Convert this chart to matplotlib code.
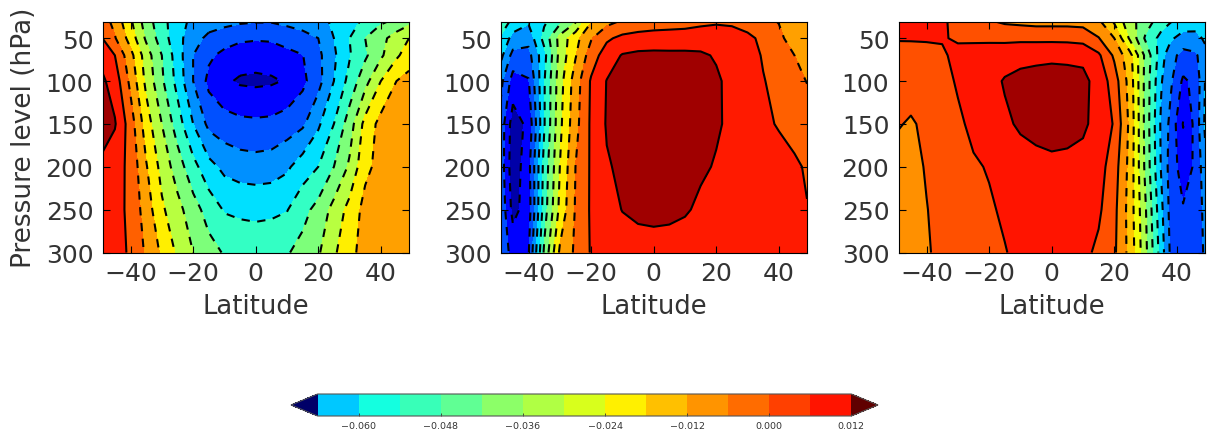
import matplotlib
matplotlib.use('Agg')
import matplotlib.pyplot as plt
import numpy as np
from matplotlib.colors import ListedColormap, BoundaryNorm
from matplotlib.colorbar import ColorbarBase

pressure = [30, 50, 70, 100, 150, 200, 250, 300]
lat_a = [-49,-45,-40,-35,-30,-25,-20,-15,-10,-5,0,5,10,15,20,25,30,35,40,45,49]
lat_c = [-49,-45,-40,-35,-30,-25,-20,-15,-10,-5,0,5,10,15,20,25,30,35,38,42,46,49]

# values in units of 1e-3
panel_a = [
 [-3,-8,-17,-27,-34,-39.5,-43.5,-45,-46,-47,-47.5,-47.5,-46.5,-45.5,-44,-41,-38,-35,-31,-29,-26],
 [0,-5.5,-14.5,-25,-33,-40,-45.5,-49.5,-51.5,-53,-53.4,-53.2,-51.5,-50,-48,-42,-36,-30,-26,-21,-18],
 [4,0,-10,-21,-30,-39,-48,-53,-55.5,-57,-57.5,-57,-55.8,-54.2,-49.5,-43,-36.5,-31,-25,-19,-15],
 [7,3.3,-7.5,-19.5,-29,-38,-48,-55.5,-59,-60.8,-61.2,-60.8,-59.5,-55.5,-50,-42,-34,-26,-18,-12,-10],
 [9,6.5,-3,-15,-24,-33,-42,-49.5,-51.5,-52.5,-52.8,-52.5,-51,-49,-43,-36,-27,-16,-10,-9,-9],
 [4.5,2.5,-1.5,-11.5,-20,-27,-34,-40,-43.5,-45,-45.5,-45,-43,-39,-36,-30,-23,-13.5,-10,-9,-9],
 [4,2.2,-1.4,-8.8,-17,-22,-27.5,-32.5,-36.5,-37,-37.2,-37,-36.3,-32,-28,-22,-16,-10,-9,-9,-9],
 [4,2.5,-0.9,-6.9,-13,-19,-24,-27.8,-30.5,-32.5,-33,-32.5,-30.5,-28,-24.7,-19,-13.5,-10,-9.5,-9,-9],
]
panel_b = [
 [-30,-38,-41,-37,-32,-25,-12.5,-8,-5.5,-4,-3,-2.5,-2.3,-1.5,-1,-1.5,-3,-5,-6.2,-8.5,-10],
 [-37,-44,-46,-34,-22,-14,-6.5,-1,1.5,2.3,2.5,2.5,2.8,3.3,3.8,3.5,1.5,-1.5,-5,-8,-10],
 [-40,-50,-50,-38,-22,-12.5,-3,3,6.4,7.2,7.4,7.3,7.2,6.8,5.5,4,2.5,-0.5,-3,-6,-9],
 [-46,-56.5,-54.5,-36.5,-20.5,-9,0.7,6.2,7,7.4,7.6,7.6,7.6,7.5,6.8,4.5,3,0.3,-1.8,-4,-6.2],
 [-50,-63,-58.5,-36.5,-19.5,-8,1,6.5,7.5,8,8.5,8.3,8,7.5,6.6,5,3,1,-0.4,-2,-3],
 [-50,-64,-56,-34,-18,-6,0.8,5.5,7,8,8.5,8.2,7.6,6.8,5.6,4.6,3.8,3,2,0.9,-0.6],
 [-49,-62,-57,-33,-16.5,-5.5,0.8,3.5,6.2,7.5,8,7.6,6.6,5,4,3.2,2.5,2,1.5,0.8,0.2],
 [-50,-56,-54.5,-29,-11,-5,0.5,1.8,2.5,3,3,3,3,3,3,3,3,2.8,2.5,2,1],
]
panel_c = [
 [7,7,7,7,4,3,0.4,-1,-1.5,-2,-2,-2,-2.2,-5,-13,-22,-27,-33,-35.5,-38,-39,-38],
 [6.5,6.5,6.5,6.8,4.8,4.8,4.8,4.7,4.6,4.5,4.5,4.4,3.8,0.3,-6,-19,-31,-38,-41,-44.5,-44,-41],
 [3.5,3.7,4.3,4.5,8.8,9,9.2,9.4,10.7,11,11.2,11,10.7,7,-1,-10,-25.5,-39.5,-46,-50,-49,-44],
 [3,3.3,3.8,4.5,6.5,8,10,12.5,13.2,13.5,13.7,13.7,13.4,10,3,-8.5,-26,-41.5,-47,-55,-52.5,-42],
 [0.5,-0.8,1.5,3.5,5.2,7,9,11,12.8,13.5,13.8,13.6,13,10,5.5,-7.5,-26,-43,-49.6,-60.3,-52,-41],
 [-3,-2,0.5,3,4.5,5.5,6.3,8,9.5,10.5,11,10.8,10,8.5,2.8,-8,-25.5,-42.5,-50.5,-57,-53,-44],
 [-2.5,-2,-0.2,2,3.5,4.6,5.5,6.6,7.8,9,9.5,9.2,8.5,7,1.6,-8.5,-23.5,-40.5,-50,-53.5,-52.5,-46],
 [-2,-1.8,-0.6,1.5,3,4,5,5.8,7,8,8.5,8,7.5,4.8,1,-8,-22.5,-39,-49,-53.5,-52,-47],
]
levels_ab = [-60,-54,-48,-42,-36,-30,-24,-18,-12,-6,0,6]
levels_c = [-60,-54,-48,-42,-36,-30,-24,-18,-12,-6,0,6,12]
x_ticks = [-40,-20,0,20,40]
y_ticks = [50,100,150,200,250,300]
cbar_bounds = [-0.066,-0.060,-0.054,-0.048,-0.042,-0.036,-0.030,-0.024,-0.018,-0.012,-0.006,0.0,0.006,0.012]
cbar_ticks = [-0.060,-0.048,-0.036,-0.024,-0.012,0.000,0.012]

colors_ab = ['#0000a8','#0000ff','#0050ff','#0090ff','#00e0ff','#33ffc4','#7dff7a','#b8ff40','#ffef00','#ffa000','#ff6000','#ff1a00','#a00000']
colors_c = ['#0000a8','#0000ff','#0040ff','#0088ff','#00d8ff','#30ffc8','#70ff88','#b0ff48','#f0ff08','#ffc800','#ff9000','#ff5000','#ff1400','#a00000']
colors_bar = ['#00c8ff','#14ffe0','#38ffb8','#60ff94','#8cff68','#b0ff44','#d8ff1c','#fff000','#ffc000','#ff9400','#ff6c00','#ff4000','#ff1400']

W, H = 1211, 431
plt.rcParams.update({'font.family':'DejaVu Sans','font.size':18,'text.color':'#333333',
                     'xtick.color':'#333333','ytick.color':'#333333','axes.labelcolor':'#333333'})
fig = plt.figure(figsize=(W/100, H/100), dpi=100)

def make_axes(x0, x1, y0=22.5, y1=253.5):
    return fig.add_axes([x0/W, 1-y1/H, (x1-x0)/W, (y1-y0)/H])

dash = (0, (4.0, 3.6))
panels = [
 (103, 409, lat_a, panel_a, levels_ab, colors_ab),
 (501, 807, lat_a, panel_b, levels_ab, colors_ab),
 (899, 1205, lat_c, panel_c, levels_c, colors_c),
]
for i, (x0, x1, lats, vals, lev, cols) in enumerate(panels):
    ax = make_axes(x0, x1)
    z = np.array(vals)
    ax.contourf(lats, pressure, z, levels=lev, colors=cols, extend='both')
    ax.contour(lats, pressure, z, levels=lev, colors='k', linewidths=1.5,
               linestyles=[dash if l < 0 else 'solid' for l in lev])
    ax.set_xlim(-48.8, 49)
    ax.set_ylim(300, 30.5)
    ax.set_xticks(x_ticks)
    ax.set_yticks(y_ticks)
    ax.set_xticklabels(['\u2212'+str(-t) if t < 0 else str(t) for t in x_ticks])
    ax.tick_params(direction='in', top=True, right=True, length=5, width=0.8, color='k', labelsize=18)
    ax.tick_params(axis='x', pad=6)
    ax.tick_params(axis='y', pad=7)
    ax.set_xlabel('Latitude', fontsize=18.6, labelpad=6)
    if i == 0:
        ax.set_ylabel('Pressure level (hPa)', fontsize=19, labelpad=6)

cax = fig.add_axes([291/W, 1-417/H, (878-291)/W, 22/H])
cmap = ListedColormap(colors_bar)
cmap.set_under('#000068')
cmap.set_over('#600000')
norm = BoundaryNorm(cbar_bounds, cmap.N)
cb = ColorbarBase(cax, cmap=cmap, norm=norm, extend='both',
                  orientation='horizontal', ticks=cbar_ticks, spacing='uniform', extendfrac=0.05)
cb.ax.minorticks_off()
cb.ax.set_xticklabels(['\u2212%.3f' % abs(t) if t < 0 else '%.3f' % t for t in cbar_ticks])
cb.ax.tick_params(labelsize=6.8, length=2.5, width=0.6, direction='in', color='#333333', pad=3.5)
cb.outline.set_linewidth(0.8)
cb.outline.set_edgecolor('#555555')
fig.savefig('out.png', dpi=100)
